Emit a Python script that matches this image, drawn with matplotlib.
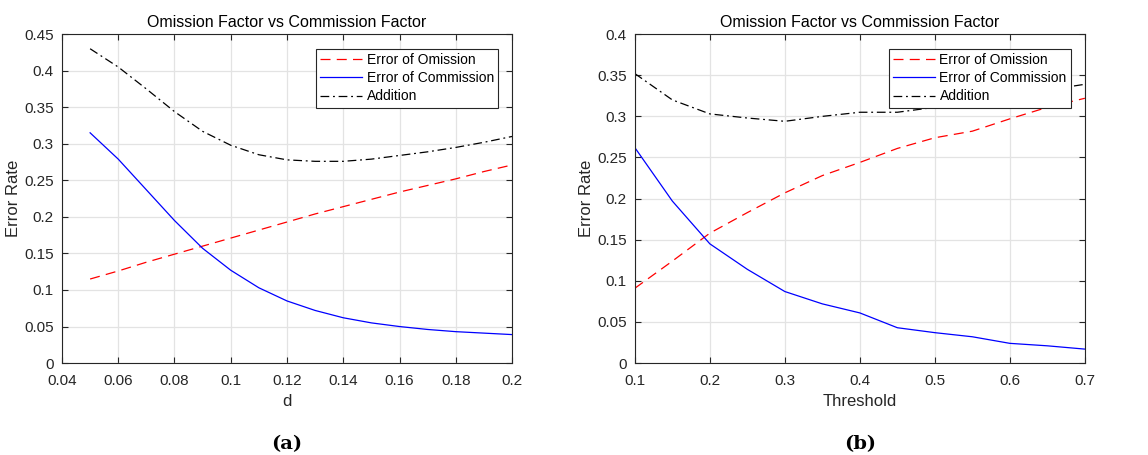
import matplotlib.pyplot as plt
import numpy as np

# (a) error rates against d
d_vals = [0.05, 0.06, 0.07, 0.08, 0.09, 0.10, 0.11, 0.12, 0.13, 0.14, 0.15, 0.16, 0.17, 0.18, 0.19, 0.20]
omission_a = [0.115, 0.126, 0.138, 0.149, 0.160, 0.171, 0.182, 0.193, 0.204, 0.214, 0.224, 0.234, 0.243, 0.252, 0.262, 0.271]
commission_a = [0.315, 0.279, 0.237, 0.195, 0.157, 0.127, 0.103, 0.085, 0.072, 0.062, 0.055, 0.050, 0.046, 0.043, 0.041, 0.039]
addition_a = [0.430, 0.405, 0.375, 0.344, 0.317, 0.298, 0.285, 0.278, 0.276, 0.276, 0.279, 0.284, 0.289, 0.295, 0.302, 0.310]

# (b) error rates against threshold
thr_vals = [0.10, 0.15, 0.20, 0.25, 0.30, 0.35, 0.40, 0.45, 0.50, 0.55, 0.60, 0.65, 0.70]
omission_b = [0.091, 0.124, 0.158, 0.183, 0.207, 0.228, 0.244, 0.261, 0.274, 0.282, 0.297, 0.311, 0.322]
commission_b = [0.262, 0.197, 0.145, 0.114, 0.087, 0.072, 0.061, 0.043, 0.037, 0.032, 0.024, 0.021, 0.017]
addition_b = [0.352, 0.320, 0.303, 0.298, 0.294, 0.300, 0.305, 0.305, 0.311, 0.314, 0.321, 0.332, 0.339]

plt.rcParams['font.family'] = ['Liberation Sans', 'DejaVu Sans']

fig = plt.figure(figsize=(11.48, 4.55), dpi=100)
ax1 = fig.add_axes([0.054, 0.202, 0.392, 0.723])
ax2 = fig.add_axes([0.553, 0.202, 0.392, 0.723])


def draw(ax, x, om, com, add, xlim, xticks, ylim, yticks, xlabel, tag, legend_anchor):
    ax.plot(x, om, color='red', linestyle=(0, (8, 5)), linewidth=0.9, label='Error of Omission')
    ax.plot(x, com, color='blue', linestyle='-', linewidth=0.9, label='Error of Commission')
    ax.plot(x, add, color='black', linestyle=(0, (7, 3, 1.5, 3)), linewidth=0.9, label='Addition')
    ax.set_xlim(xlim)
    ax.set_ylim(ylim)
    ax.set_xticks(xticks)
    ax.set_yticks(yticks)
    ax.set_xticklabels([f'{t:g}' for t in xticks])
    ax.set_yticklabels([f'{t:g}' for t in yticks])
    ax.grid(True, color='#e3e3e3', linewidth=0.9)
    ax.set_axisbelow(True)
    for s in ax.spines.values():
        s.set_color('#262626')
        s.set_linewidth(0.8)
    ax.tick_params(direction='in', top=True, right=True, length=4, width=0.8,
                   colors='#262626', labelsize=11)
    ax.tick_params(axis='x', pad=8)
    ax.tick_params(axis='y', pad=6)
    ax.set_xlabel(xlabel, fontsize=12, color='#262626', labelpad=4)
    ax.set_ylabel('Error Rate', fontsize=12, color='#262626', labelpad=2)
    ax.set_title('Omission Factor vs Commission Factor', fontsize=11.5, color='black', pad=5)
    leg = ax.legend(loc='upper right', bbox_to_anchor=legend_anchor, fontsize=10,
                    fancybox=False, framealpha=1, edgecolor='#262626',
                    handlelength=3.0, handletextpad=0.35, labelspacing=0.3,
                    borderpad=0.3, borderaxespad=0)
    leg.get_frame().set_linewidth(0.8)
    ax.text(0.5, -0.22, '(' + tag + ')', transform=ax.transAxes, ha='center', va='top',
            fontsize=14, family=['DejaVu Serif'], fontweight='bold')


draw(ax1, d_vals, omission_a, commission_a, addition_a, (0.04, 0.2),
     [0.04, 0.06, 0.08, 0.1, 0.12, 0.14, 0.16, 0.18, 0.2], (0, 0.45),
     [0, 0.05, 0.1, 0.15, 0.2, 0.25, 0.3, 0.35, 0.4, 0.45], 'd', 'a', (0.969, 0.955))
draw(ax2, thr_vals, omission_b, commission_b, addition_b, (0.1, 0.7),
     [0.1, 0.2, 0.3, 0.4, 0.5, 0.6, 0.7], (0, 0.4),
     [0, 0.05, 0.1, 0.15, 0.2, 0.25, 0.3, 0.35, 0.4], 'Threshold', 'b', (0.969, 0.955))

fig.savefig('out.png', dpi=100)
